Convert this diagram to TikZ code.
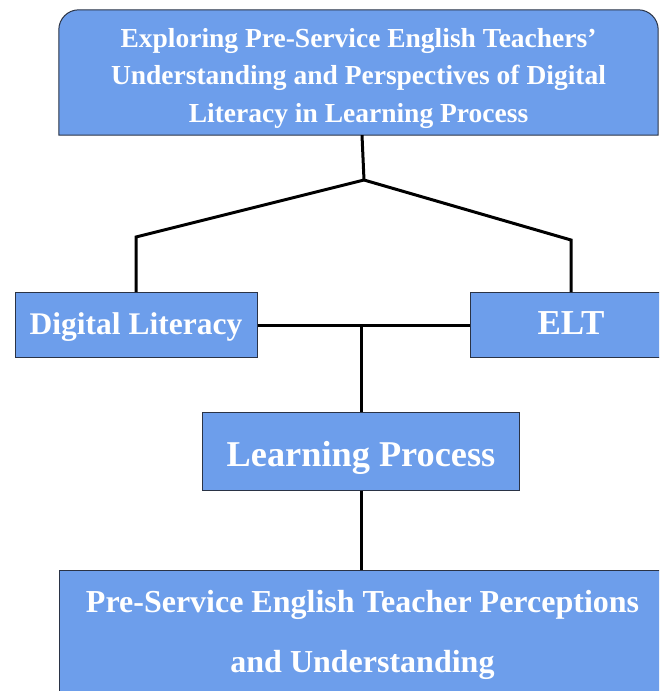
\documentclass[tikz,border=0pt]{standalone}
\usepackage{fontspec}
\setmainfont{Liberation Serif}
\usetikzlibrary{backgrounds}
\definecolor{boxfill}{HTML}{6D9EEB}
\definecolor{boxline}{HTML}{2A3345}
\begin{document}
\begin{tikzpicture}[x=1pt,y=1pt,
  boxshape/.style={fill=boxfill,draw=boxline,line width=1pt},
  boxtext/.style={text=white,align=center,inner sep=0pt},
  conn/.style={line width=3pt,black}]
\useasboundingbox (0,0) rectangle (659,-691);
\clip (0,0) rectangle (659,-691);

% title box (top corners rounded)
\node[boxtext,minimum width=599pt,minimum height=125pt,
  font=\bfseries\fontsize{27.5}{37.5}\selectfont] (top) at (358.5,-72.5)
  {\rule{0pt}{31pt}Exploring Pre-Service English Teachers’\\Understanding and Perspectives of Digital\\Literacy in Learning Process};
\begin{scope}[on background layer]
\filldraw[boxshape] (top.south west) -- ([yshift=-20pt]top.north west)
  arc[start angle=180,end angle=90,radius=20pt]
  -- ([xshift=-20pt]top.north east)
  arc[start angle=90,end angle=0,radius=20pt]
  -- (top.south east) -- cycle;
\end{scope}

\node[boxshape,boxtext,minimum width=242pt,minimum height=65pt,
  text height=19pt,text depth=0pt,
  font=\bfseries\fontsize{31.5}{36}\selectfont] (dl) at (136,-325) {Digital Literacy};
\node[boxshape,boxtext,minimum width=202pt,minimum height=65pt,
  text height=18pt,text depth=0pt,
  font=\bfseries\fontsize{35}{40}\selectfont] (elt) at (571,-325) {ELT};
\node[boxshape,boxtext,minimum width=317pt,minimum height=77.5pt,
  text height=31pt,text depth=0pt,
  font=\bfseries\fontsize{36.3}{42}\selectfont] (lp) at (361,-451.3) {Learning Process};
\node[boxshape,boxtext,minimum width=607pt,minimum height=129pt,
  font=\bfseries\fontsize{32}{60}\selectfont] (pst) at (362.5,-635.2)
  {Pre-Service English Teacher Perceptions\\and Understanding};

% connectors
\coordinate (j1) at (364,-180);
\coordinate (k1) at (136,-237);
\coordinate (k2) at (571,-240);
\draw[conn] ([xshift=3.5pt]top.south) -- (j1);
\draw[conn,line join=miter] (j1) -- (k1) -- (dl.north);
\draw[conn,line join=miter] (j1) -- (k2) -- (elt.north);
\draw[conn] (dl.east) -- (elt.west);
\coordinate (j2) at (lp.north |- dl.east);
\draw[conn] (j2) -- (lp.north);
\draw[conn] (lp.south) -- (lp.south |- pst.north);
\end{tikzpicture}
\end{document}
